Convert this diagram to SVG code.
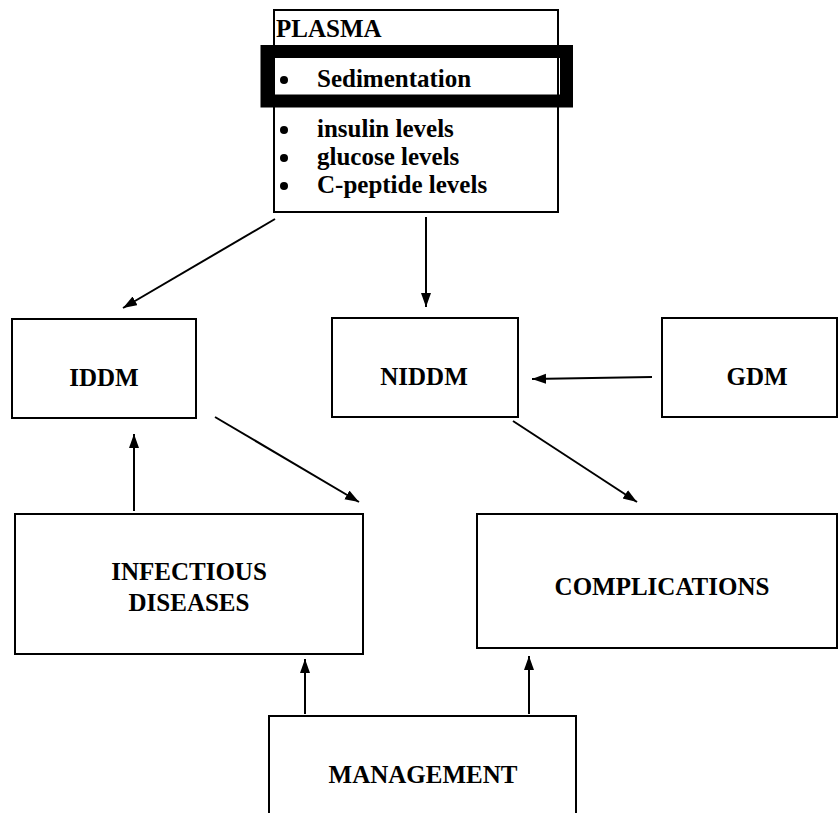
<svg xmlns="http://www.w3.org/2000/svg" width="840" height="813" viewBox="0 0 840 813">
<style>
  .box { fill: #fff; stroke: #000; stroke-width: 2; }
  .t { font-weight: bold; font-size: 25px; fill: #000; }
  .c { text-anchor: middle; }
  .ln { stroke: #000; fill: none; stroke-width: 2; }
</style>
<defs>
  <marker id="ah" markerUnits="userSpaceOnUse" markerWidth="15" markerHeight="11" refX="14" refY="5" orient="auto">
    <path d="M0,0 L14,5 L0,10 z" fill="#000"/>
  </marker>
</defs>
<rect width="840" height="813" fill="#fff"/>
<g font-family="'Liberation Serif', 'DejaVu Serif', serif">
<g id="plasma">
  <rect class="box" x="274" y="10" width="284" height="202"/>
  <text class="t" x="276" y="37">PLASMA</text>
  <rect x="267" y="51.5" width="299.5" height="49.5" fill="none" stroke="#000" stroke-width="13"/>
  <circle cx="284" cy="80" r="4"/>
  <text class="t" x="317" y="87">Sedimentation</text>
  <circle cx="284" cy="130" r="4"/>
  <text class="t" x="317" y="137">insulin levels</text>
  <circle cx="284" cy="158" r="4"/>
  <text class="t" x="317" y="165">glucose levels</text>
  <circle cx="284" cy="186" r="4"/>
  <text class="t" x="317" y="193">C-peptide levels</text>
</g>

<g id="iddm">
  <rect class="box" x="12" y="319" width="184" height="99"/>
  <text class="t c" x="104" y="386">IDDM</text>
</g>

<g id="niddm">
  <rect class="box" x="332" y="318" width="186" height="99"/>
  <text class="t c" x="424" y="385">NIDDM</text>
</g>

<g id="gdm">
  <rect class="box" x="662" y="318" width="175" height="99"/>
  <text class="t c" x="757" y="385">GDM</text>
</g>

<g id="infectious">
  <rect class="box" x="15" y="514" width="348" height="140"/>
  <text class="t c" x="189" y="580">INFECTIOUS</text>
  <text class="t c" x="189" y="611">DISEASES</text>
</g>

<g id="complications">
  <rect class="box" x="477" y="514" width="360" height="134"/>
  <text class="t c" x="662" y="595">COMPLICATIONS</text>
</g>

<g id="management">
  <rect class="box" x="269" y="716" width="307" height="110"/>
  <text class="t c" x="423" y="783">MANAGEMENT</text>
</g>
</g>
<g id="connectors">
  <line class="ln" x1="275" y1="219" x2="123" y2="308" marker-end="url(#ah)"/>
  <line class="ln" x1="426" y1="217" x2="426" y2="307" stroke-width="1.5" marker-end="url(#ah)"/>
  <line class="ln" x1="652" y1="377" x2="532" y2="379" marker-end="url(#ah)"/>
  <line class="ln" x1="215" y1="417" x2="359" y2="502" stroke-width="0.8" marker-end="url(#ah)"/>
  <line class="ln" x1="513" y1="421" x2="637" y2="502" marker-end="url(#ah)"/>
  <line class="ln" x1="134" y1="511" x2="134" y2="434" marker-end="url(#ah)"/>
  <line class="ln" x1="305" y1="714" x2="305" y2="659" stroke-width="1.5" marker-end="url(#ah)"/>
  <line class="ln" x1="529" y1="714" x2="529" y2="656" stroke-width="1.5" marker-end="url(#ah)"/>
</g>
</svg>
